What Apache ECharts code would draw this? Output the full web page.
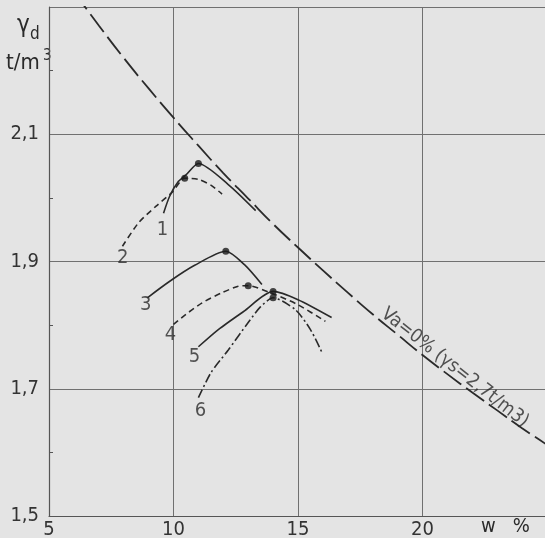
<!DOCTYPE html>
<html>
<head>
<meta charset="utf-8">
<script src="https://cdn.jsdelivr.net/npm/echarts@6/dist/echarts.min.js"></script>
<style>
html,body{margin:0;padding:0;background:#e4e4e4;}
#c{width:545px;height:538px;}
</style>
</head>
<body>
<div id="c"></div>
<script>
// ---- data (w %, gamma_d t/m3) ----
var xTicks = [5, 10, 15, 20];
var yTickLabels = ['1,5', '1,7', '1,9', '2,1'];

// zero air voids line Va=0% (gamma_s = 2,7 t/m3)
var vaW = [6, 7, 8, 9, 10, 11, 12, 13, 14, 15, 16, 17, 18, 19, 20, 21, 22, 23, 24, 25];
var vaG = [2.324, 2.271, 2.220, 2.172, 2.126, 2.082, 2.039, 1.999, 1.959, 1.922, 1.886, 1.851, 1.817, 1.785, 1.753, 1.723, 1.694, 1.666, 1.638, 1.612];

var curve1 = [[9.6, 1.976], [9.85, 2.003], [10.2, 2.026], [10.5, 2.036], [11.0, 2.054], [12.2, 2.021], [13.3, 1.980]];
var curve2 = [[7.95, 1.924], [8.6, 1.961], [9.3, 1.987], [9.95, 2.009], [10.45, 2.031], [11.0, 2.029], [11.5, 2.020], [11.95, 2.006]];
var curve3 = [[8.95, 1.843], [9.85, 1.869], [10.85, 1.894], [12.1, 1.916], [12.85, 1.895], [13.55, 1.864]];
var curve4 = [[10.0, 1.801], [10.5, 1.817], [11.15, 1.835], [11.95, 1.851], [12.6, 1.861], [13.0, 1.862], [13.95, 1.850], [15.0, 1.832], [16.1, 1.806]];
var curve5 = [[11.0, 1.766], [11.8, 1.793], [12.8, 1.821], [14.0, 1.853], [15.0, 1.840], [16.35, 1.812]];
var curve6 = [[11.0, 1.686], [11.5, 1.725], [12.2, 1.761], [13.0, 1.804], [13.5, 1.829], [14.0, 1.843], [14.9, 1.824], [15.5, 1.793], [15.95, 1.758]];

// optimum points (peaks)
var peakW = [11.0, 10.45, 12.1, 13.0, 14.0, 14.0];
var peakG = [2.054, 2.031, 1.916, 1.862, 1.853, 1.843];

// curve numbers and their anchor points
var curveNames = ['1', '2', '3', '4', '5', '6'];
var nameW = [9.56, 7.96, 8.88, 9.88, 10.84, 11.08];
var nameG = [1.950, 1.906, 1.832, 1.785, 1.750, 1.665];

var vaLabel = 'Va=0% (γs=2,7t/m3)';
var vaLabelW = 21.3, vaLabelG = 1.733;

// ---- chart ----
var FONT = "'Liberation Sans Narrow', 'DejaVu Sans Condensed', sans-serif";
var INK = '#2a2a2a';
var chart = echarts.init(document.getElementById('c'), null, {renderer: 'canvas'});

function zip(a, b) { return a.map(function (v, i) { return [v, b[i]]; }); }

var curveStyles = [
  {type: 'solid'}, {type: [6, 4]}, {type: 'solid'}, {type: [6, 4]}, {type: 'solid'}, {type: [9, 3, 2, 3]}
];
var curves = [curve1, curve2, curve3, curve4, curve5, curve6];

var series = [];
series.push({
  type: 'line', data: zip(vaW, vaG), smooth: true, showSymbol: false, silent: true,
  lineStyle: {color: INK, width: 1.8, type: [22, 6]}, z: 3
});
curves.forEach(function (c, i) {
  series.push({
    type: 'line', data: c, smooth: 0.25, showSymbol: false, silent: true,
    lineStyle: {color: INK, width: 1.6, type: curveStyles[i].type}, z: 4
  });
});
series.push({
  type: 'scatter', data: zip(peakW, peakG), symbol: 'circle', symbolSize: 7,
  itemStyle: {color: '#1a1a1a'}, silent: true, z: 5
});
series.push({
  type: 'scatter', silent: true, symbolSize: 0,
  data: curveNames.map(function (n, i) { return {value: [nameW[i], nameG[i]], name: n}; }),
  label: {show: true, position: 'inside', formatter: '{b}', color: INK, fontFamily: FONT, fontSize: 20},
  z: 6
});
series.push({
  type: 'scatter', silent: true, symbolSize: 0,
  data: [{value: [vaLabelW, vaLabelG], name: vaLabel}],
  label: {show: true, position: 'inside', formatter: '{b}', rotate: -38, color: INK, fontFamily: FONT, fontSize: 19},
  z: 6
});

var option = {
  backgroundColor: '#e4e4e4',
  animation: false,
  grid: {left: 49, top: 7, right: -2, bottom: 22, containLabel: false, outerBoundsMode: 'none'},
  xAxis: {
    type: 'value', min: 5, max: 25, interval: 5,
    axisLine: {show: true, onZero: false, lineStyle: {color: '#555', width: 1.2}},
    axisTick: {show: false},
    axisLabel: {
      margin: 4, color: '#333', fontFamily: FONT, fontSize: 20,
      formatter: function (v) { return xTicks.indexOf(v) >= 0 ? String(v) : ''; }
    },
    splitLine: {show: true, lineStyle: {color: '#707070', width: 1}}
  },
  yAxis: {
    type: 'value', min: 1.5, max: 2.3, interval: 0.2,
    axisLine: {show: true, onZero: false, lineStyle: {color: '#555', width: 1.2}},
    axisTick: {show: false, inside: true},
    minorTick: {show: true, splitNumber: 2, length: 4, lineStyle: {color: '#555', width: 1}},
    axisLabel: {
      margin: 10, color: '#333', fontFamily: FONT, fontSize: 20,
      formatter: function (v) {
        var k = Math.round((v - 1.5) / 0.2);
        return yTickLabels[k] !== undefined ? yTickLabels[k] : '';
      }
    },
    splitLine: {show: true, lineStyle: {color: '#707070', width: 1}}
  },
  graphic: [
    {type: 'text', left: 17, top: 14, style: {text: 'γ', font: '24px ' + FONT, fill: INK}},
    {type: 'text', left: 30, top: 26, style: {text: 'd', font: '17px ' + FONT, fill: INK}},
    {type: 'text', left: 6, top: 52, style: {text: 't/m', font: '22px ' + FONT, fill: INK}},
    {type: 'text', left: 43, top: 49, style: {text: '3', font: '15px ' + FONT, fill: INK}},
    {type: 'text', left: 481, top: 517, style: {text: 'w   %', font: '20px ' + FONT, fill: INK}}
  ],
  series: series
};
chart.setOption(option);
</script>
</body>
</html>
